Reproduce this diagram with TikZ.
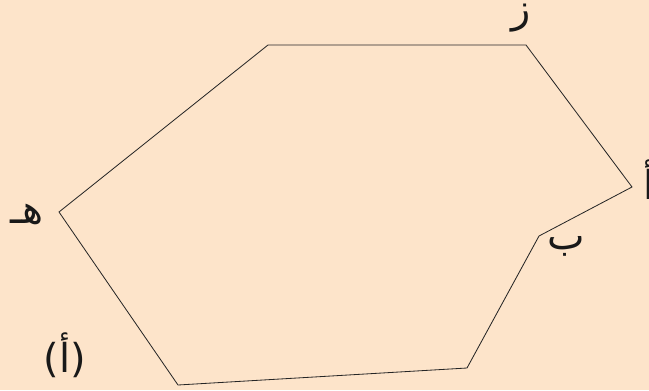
\documentclass[tikz,border=0pt]{standalone}
\usepackage{fontspec}
\usetikzlibrary{positioning}
\TeXXeTstate=1
\newfontfamily\arabicfont[Script=Arabic]{DejaVu Sans}
\definecolor{pageBg}{HTML}{FDE4CA}
\tikzset{
  edge line/.style={draw=black!85, line width=0.7pt, line join=miter},
  vertex label/.style={font=\arabicfont\fontsize{34}{38}\selectfont, text=black!90, inner sep=0pt}
}

\begin{document}
\begin{tikzpicture}[x=0.03cm, y=-0.03cm]
  \fill[pageBg] (0,0) rectangle (649,390);
  \useasboundingbox (0,0) rectangle (649,390);
  % corners of the figure
  \coordinate (topL) at (268,45);
  \coordinate (zay) at (526,45);
  \coordinate (alef) at (632,187);
  \coordinate (beh) at (539,236);
  \coordinate (botR) at (467,368);
  \coordinate (botL) at (178,385);
  \coordinate (heh) at (59,212);
  \draw[edge line] (topL) -- (zay) -- (alef) -- (beh) -- (botR) -- (botL) -- (heh) -- cycle;
  % letters
  \node[vertex label] (zayLbl) at (521,18) {\beginR ز\endR};
  \node[vertex label, anchor=west] (alefLbl) at (643,180) {\beginR أ\endR};
  \node[vertex label] (behLbl) at (566,246) {\beginR ب\endR};
  \node[vertex label] (hehLbl) at (27,214) {\beginR هـ\endR};
  \node[vertex label] (figLbl) at (65,355) {(أ)};
\end{tikzpicture}
\end{document}
